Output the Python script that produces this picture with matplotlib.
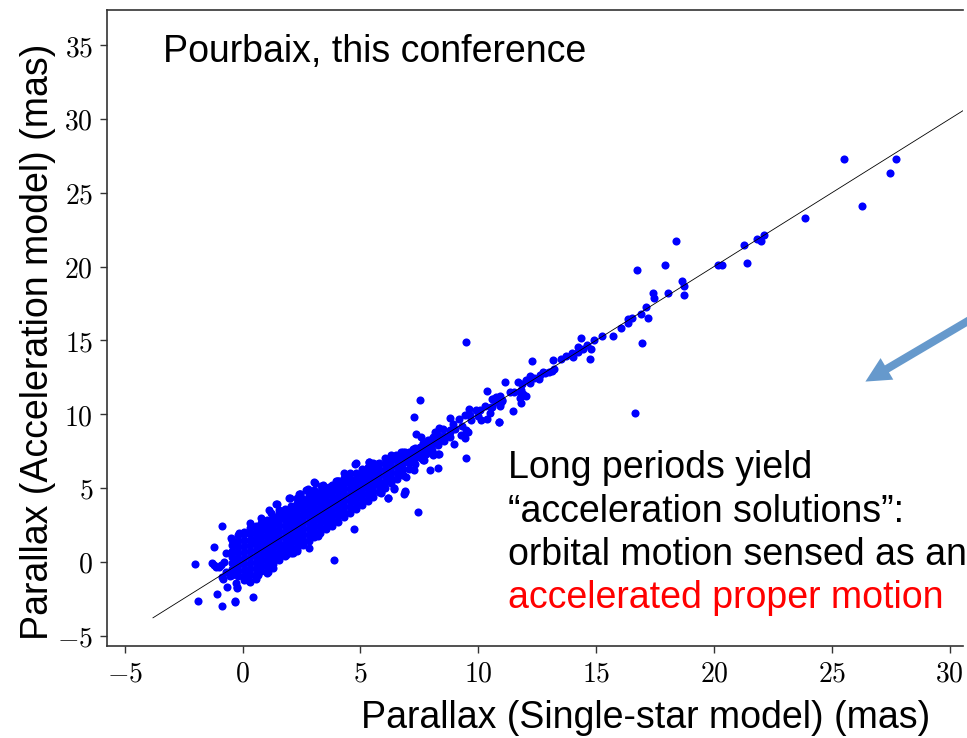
import numpy as np
import matplotlib
matplotlib.use('Agg')
import matplotlib.pyplot as plt
from matplotlib.ticker import FuncFormatter
from matplotlib.patches import FancyArrowPatch

plt.rcParams['mathtext.fontset'] = 'cm'

# dense core of the cloud, read slice by slice: x -> list of y
core_slices = {
    -0.45: [-0.9, -0.5, -0.1, 0.3, 0.7, 1.1, 1.5],
    -0.2: [-1.0, -0.6, -0.2, 0.2, 0.6, 1.0, 1.4, 1.8],
    0.05: [-0.95, -0.55, -0.15, 0.25, 0.65, 1.05, 1.45, 1.85],
    0.3: [-0.9, -0.5, -0.1, 0.3, 0.7, 1.1, 1.5, 1.9, 2.3],
    0.55: [-0.8, -0.4, 0.0, 0.4, 0.8, 1.2, 1.6, 2.0, 2.45],
    0.8: [-0.6, -0.2, 0.2, 0.6, 1.0, 1.4, 1.8, 2.2, 2.6],
    1.05: [-0.35, 0.05, 0.45, 0.85, 1.25, 1.65, 2.05, 2.45, 2.85],
    1.3: [-0.15, 0.25, 0.65, 1.05, 1.45, 1.85, 2.25, 2.65, 3.05],
    1.55: [0.1, 0.5, 0.9, 1.3, 1.7, 2.1, 2.5, 2.9, 3.3],
    1.8: [0.4, 0.8, 1.2, 1.6, 2.0, 2.4, 2.8, 3.2, 3.55],
    2.05: [0.6, 1.0, 1.4, 1.8, 2.2, 2.6, 3.0, 3.4, 3.75],
    2.3: [0.85, 1.25, 1.65, 2.05, 2.45, 2.85, 3.25, 3.65, 4.0],
    2.55: [1.1, 1.5, 1.9, 2.3, 2.7, 3.1, 3.5, 3.9, 4.25],
    2.8: [1.4, 1.8, 2.2, 2.6, 3.0, 3.4, 3.8, 4.2, 4.5],
    3.05: [1.7, 2.1, 2.5, 2.9, 3.3, 3.7, 4.1, 4.5],
    3.3: [1.95, 2.35, 2.75, 3.15, 3.55, 3.95, 4.35, 4.75],
    3.55: [2.2, 2.6, 3.0, 3.4, 3.8, 4.2, 4.6, 5.0],
    3.8: [2.45, 2.85, 3.25, 3.65, 4.05, 4.45, 4.85, 5.2],
    4.05: [2.7, 3.1, 3.5, 3.9, 4.3, 4.7, 5.1, 5.45],
    4.3: [3.0, 3.4, 3.8, 4.2, 4.6, 5.0, 5.4, 5.7],
    4.55: [3.3, 3.7, 4.1, 4.5, 4.9, 5.3, 5.7, 6.0],
    4.8: [3.6, 4.0, 4.4, 4.8, 5.2, 5.6, 6.0],
    5.05: [3.85, 4.25, 4.65, 5.05, 5.45, 5.85, 6.25],
    5.3: [4.1, 4.5, 4.9, 5.3, 5.7, 6.1, 6.45],
    5.55: [4.4, 4.8, 5.2, 5.6, 6.0, 6.4, 6.7],
    5.8: [4.7, 5.1, 5.5, 5.9, 6.3, 6.7],
    6.05: [5.0, 5.4, 5.8, 6.2, 6.6, 7.0],
    6.3: [5.3, 5.7, 6.1, 6.5, 6.9, 7.2],
    6.55: [5.6, 6.0, 6.4, 6.8, 7.15],
    6.8: [5.9, 6.3, 6.7, 7.05, 7.4],
    7.05: [6.3, 6.7, 7.0, 7.4],
    7.3: [6.6, 7.0, 7.35, 7.7],
    7.55: [7.0, 7.35, 7.7],
    7.8: [7.3, 7.65, 8.0],
    8.05: [7.6, 8.0, 8.3],
    8.3: [7.9, 8.25, 8.6],
    8.55: [8.2, 8.55],
    8.8: [8.45, 8.8],
}

# sparser stars along the relation (x, y)
line_pts = [
    (25.52, 27.30), (27.72, 27.26), (27.45, 26.35), (26.26, 24.12), (23.87, 23.27),
    (21.84, 21.87), (22.00, 21.72), (22.12, 22.12), (21.29, 21.45), (21.40, 20.27),
    (20.17, 20.07), (20.34, 20.11), (18.37, 21.74), (16.74, 19.76), (17.90, 20.07),
    (18.63, 18.99), (18.71, 18.68), (18.71, 18.07), (18.06, 18.20), (17.42, 18.18),
    (17.46, 17.86), (17.12, 17.26), (16.91, 16.78), (17.18, 16.49), (16.54, 16.49),
    (16.33, 16.42), (16.33, 16.18), (16.06, 15.86), (16.94, 14.80), (15.71, 15.30),
    (15.24, 15.32), (14.90, 15.05), (14.60, 14.66), (14.35, 15.14), (14.79, 14.39),
    (14.72, 13.72), (14.42, 14.44), (14.21, 14.53), (14.21, 14.24), (13.98, 14.15),
    (14.00, 13.90), (13.71, 13.97), (13.51, 13.72), (13.16, 13.65), (13.23, 13.04),
    (13.13, 12.95), (13.02, 12.86), (12.85, 12.82), (12.75, 12.84), (12.60, 12.68),
    (12.56, 12.39), (12.38, 12.43), (12.19, 12.55), (12.01, 12.32), (11.87, 12.07),
    (11.70, 12.21), (12.27, 13.58), (9.49, 14.86), (11.13, 12.19), (12.04, 11.20),
    (11.83, 11.38), (11.80, 10.74), (11.47, 10.20), (16.64, 10.09), (10.38, 11.55),
    (10.57, 11.04), (10.77, 11.18), (10.91, 10.66), (11.33, 11.49), (11.02, 10.97),
    (10.88, 9.44), (7.53, 10.95), (7.29, 9.80), (11.80, 11.64), (11.88, 11.35),
    (11.75, 11.06), (10.90, 11.26), (10.62, 11.04), (10.76, 10.79), (10.55, 10.47),
    (10.92, 10.52), (10.27, 10.54), (10.08, 10.29), (9.91, 10.25), (9.60, 10.38),
    (9.66, 9.91), (9.42, 9.96), (9.18, 9.68), (8.78, 9.73), (8.92, 9.35),
    (8.81, 8.94), (8.50, 9.01), (8.33, 9.05), (8.16, 8.78), (8.07, 8.45),
    (7.86, 8.27), (7.65, 8.04), (7.51, 7.77), (7.22, 7.66), (6.94, 7.32),
    (6.73, 7.43), (7.34, 8.67), (7.58, 8.45), (10.89, 9.44), (10.51, 10.05),
    (10.13, 9.57), (10.37, 9.68), (9.49, 8.90), (9.28, 8.56), (9.56, 8.78),
    (8.99, 8.00), (9.42, 8.40), (8.07, 7.21), (8.35, 7.32), (9.46, 7.05),
    (10.0, 9.9), (9.7, 9.6), (9.3, 9.2), (9.0, 9.0), (8.6, 8.5),
    (8.3, 8.3), (8.0, 7.9), (7.7, 7.6), (7.4, 7.3), (7.1, 7.0),
    (10.6, 10.5), (11.0, 10.9), (11.5, 11.5), (12.2, 12.1),
]

# scattered stars around the core (x, y)
halo_pts = [
    (4.80, 6.66), (5.35, 6.75), (5.71, 6.62), (6.09, 6.75), (6.51, 7.21),
    (6.87, 7.43), (3.04, 5.38), (3.40, 5.18), (3.68, 5.07), (3.96, 5.47),
    (4.08, 5.47), (4.39, 5.38), (2.69, 4.89), (2.43, 4.62), (2.01, 4.32),
    (2.97, 4.44), (3.44, 4.73), (3.65, 4.80), (2.12, 3.71), (1.70, 3.04),
    (5.88, 4.73), (6.16, 4.32), (6.41, 5.00), (6.83, 4.62), (6.91, 4.77),
    (7.26, 6.19), (6.94, 5.74), (6.58, 5.97), (7.67, 6.91), (7.62, 7.41),
    (7.72, 7.81), (7.43, 3.34), (4.74, 2.19), (3.86, 0.11), (8.28, 6.35),
    (8.30, 7.32), (7.69, 6.87), (7.94, 6.20), (6.87, 4.73), (6.16, 4.35),
    (6.41, 4.96), (5.89, 4.66), (5.42, 4.57), (6.80, 5.86), (4.77, 6.65),
    (5.38, 6.76), (5.73, 6.65), (6.12, 6.69), (3.07, 5.36), (3.33, 5.14),
    (4.01, 5.45), (2.76, 4.91), (2.45, 4.62), (1.48, 3.88), (1.13, 3.49),
    (1.41, 3.04), (-2.03, -0.13), (-1.87, -2.66), (-0.88, -2.97), (-1.09, -2.21),
    (-0.32, -2.66), (0.45, -2.39), (-0.65, -1.69), (-0.26, -1.46), (-0.22, -1.73),
    (0.28, -1.28), (-0.89, -1.06), (-0.88, 2.41), (-1.23, 0.97), (-1.28, -0.11),
    (-1.14, -0.34), (-1.00, -0.38), (-0.78, 0.00), (-0.71, 0.57), (-0.14, 1.92),
    (-0.50, 1.58), (1.20, 3.31), (1.41, 3.90), (1.98, 4.35), (2.41, 4.57),
    (2.76, 4.84), (3.54, 4.73), (1.41, 0.23), (1.02, -0.79), (0.66, -0.90),
    (1.10, -0.67), (0.21, -0.56), (1.84, 0.45), (2.29, 0.75), (0.07, 2.03),
    (3.18, 1.74), (2.12, 0.57), (-0.31, -2.70), (-0.22, -1.80), (0.31, -1.35),
    (-0.85, -1.19), (-0.54, -0.95), (-0.71, -0.68), (-1.22, -0.20), (-0.91, -0.22),
    (0.05, -1.25), (0.55, -1.15), (1.30, -0.45), (0.30, 2.65), (0.80, 2.95),
    (1.55, 3.50), (2.30, 4.30), (3.05, 4.85), (4.30, 6.00), (2.80, 0.90),
]

xticks = [-5, 0, 5, 10, 15, 20, 25, 30]
yticks = [-5, 0, 5, 10, 15, 20, 25, 30, 35]

core_x = np.concatenate([[k] * len(v) for k, v in core_slices.items()])
core_y = np.concatenate([v for v in core_slices.values()])
other = np.array(line_pts + halo_pts)
px = np.concatenate([core_x, other[:, 0]])
py = np.concatenate([core_y, other[:, 1]])

fig = plt.figure(figsize=(9.67, 7.38), dpi=100)
ax = fig.add_axes([107 / 967, 92 / 738, 856 / 967, 636 / 738])

ax.scatter(px, py, s=34, c='#0000ff', linewidths=0, zorder=2)
ax.plot([-3.8, 32], [-3.8, 32], color='black', lw=0.6, zorder=3)

ax.set_xlim(-5.75, 30.56)
ax.set_ylim(-5.71, 37.38)
ax.set_xticks(xticks)
ax.set_yticks(yticks)
fmt = FuncFormatter(lambda v, p: r'$%d$' % v)
ax.xaxis.set_major_formatter(fmt)
ax.yaxis.set_major_formatter(fmt)
ax.tick_params(labelsize=20, length=5, width=1, color='#333333', pad=5)
ax.spines['right'].set_visible(False)
for s in ['left', 'top', 'bottom']:
    ax.spines[s].set_color('#333333')
    ax.spines[s].set_linewidth(1.2)

lab = dict(family='Liberation Sans', fontsize=27)
ax.set_xlabel('Parallax (Single-star model) (mas)', **lab)
ax.xaxis.set_label_coords((646 - 107) / 856, -(700 - 646) / 636)
ax.set_ylabel('Parallax (Acceleration model) (mas)', **lab)
ax.yaxis.set_label_coords(-(107 - 56) / 856, (646 - 342) / 636)

ax.text(0.065, 0.918, 'Pourbaix, this conference', transform=ax.transAxes,
        ha='left', va='baseline', **lab)

lines = ['Long periods yield', '\u201cacceleration solutions\u201d:',
         'orbital motion sensed as an', 'accelerated proper motion']
colors = ['black', 'black', 'black', 'red']
baselines = [478, 521.7, 565, 608]
for t, c, b in zip(lines, colors, baselines):
    fig.text(508 / 967, 1 - b / 738, t, color=c, ha='left', va='baseline', **lab)

arr = FancyArrowPatch((990 / 967, 1 - 308 / 738), (863 / 967, 1 - 383 / 738),
                      transform=fig.transFigure, color='#6699cc',
                      arrowstyle='simple,head_length=0.9,head_width=0.9,tail_width=0.29',
                      mutation_scale=20, lw=0)
fig.patches.append(arr)

fig.savefig('out.png', dpi=100)
